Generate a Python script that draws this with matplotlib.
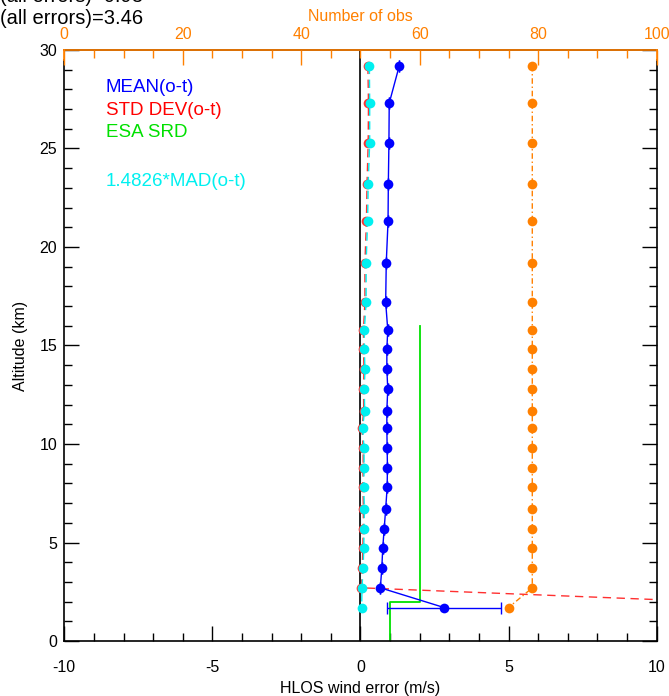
import matplotlib
matplotlib.use("Agg")
import matplotlib.pyplot as plt
from matplotlib.ticker import MultipleLocator

plt.rcParams['font.family'] = ['Liberation Sans', 'DejaVu Sans']
plt.rcParams['axes.unicode_minus'] = False

# Altitude levels (km)
altitude = [29.2, 27.3, 25.3, 23.2, 21.3, 19.2, 17.2, 15.8, 14.8, 13.8, 12.8,
            11.7, 10.8, 9.8, 8.8, 7.8, 6.7, 5.7, 4.7, 3.7, 2.7, 1.7]

# HLOS wind error statistics (m/s)
mean_ot = [1.31, 0.97, 0.96, 0.94, 0.93, 0.87, 0.85, 0.92, 0.89, 0.89, 0.92,
           0.89, 0.89, 0.90, 0.91, 0.90, 0.85, 0.80, 0.75, 0.72, 0.67, 2.82]
std_ot = [0.25, 0.27, 0.26, 0.22, 0.20, 0.15, 0.15, 0.10, 0.10, 0.12, 0.10,
          0.11, 0.05, 0.09, 0.09, 0.08, 0.10, 0.09, 0.08, 0.06, 0.03, 16.7]
mad_ot = [0.30, 0.31, 0.31, 0.26, 0.24, 0.19, 0.19, 0.13, 0.13, 0.15, 0.13,
          0.14, 0.07, 0.12, 0.12, 0.11, 0.13, 0.12, 0.11, 0.09, 0.05, 0.04]
mean_err = [0, 0, 0, 0, 0, 0, 0, 0, 0, 0, 0,
            0, 0, 0, 0, 0, 0, 0, 0, 0, 0, 1.91]

# Number of observations per level
n_obs = [79, 79, 79, 79, 79, 79, 79, 79, 79, 79, 79,
         79, 79, 79, 79, 79, 79, 79, 79, 79, 79, 75]

# ESA system requirement (m/s) vs altitude (km)
srd_err = [1, 1, 2, 2]
srd_alt = [0, 2, 2, 16]

ORANGE = '#FF8000'
fig = plt.figure(figsize=(6.69, 6.96), dpi=100)
ax = fig.add_axes([0.0961, 0.0790, 0.8855, 0.8492])

ax.set_xlim(-10, 10)
ax.set_ylim(0, 30)

ax.plot([0, 0], [0, 30], color='black', lw=1.2, zorder=1)
ax.plot(srd_err, srd_alt, color='#00E000', lw=1.3, zorder=2)
ax.plot(std_ot, altitude, color='#FF3030', ls=(0, (6, 4)), lw=1.0,
        marker='o', ms=7, mec='none', zorder=3)
ax.plot(mad_ot, altitude, color='#00F0F0', ls=(0, (6, 4)), lw=1.0,
        marker='o', ms=7, mec='none', zorder=4)
ax.errorbar(mean_ot, altitude, xerr=mean_err, color='#0000FF', lw=1.0,
            marker='o', ms=7, mec='none', capsize=4, elinewidth=1.0, zorder=5)

ax.xaxis.set_major_locator(MultipleLocator(5))
ax.xaxis.set_minor_locator(MultipleLocator(1))
ax.yaxis.set_major_locator(MultipleLocator(5))
ax.yaxis.set_minor_locator(MultipleLocator(1))
ax.tick_params(which='both', direction='in', right=True, top=False,
               labelsize=11.5, color='black')
ax.tick_params(which='major', length=11, width=1.0)
ax.tick_params(which='minor', length=5.5, width=1.0)
ax.tick_params(axis='x', pad=14)
ax.tick_params(axis='y', pad=5)
ax.set_xlabel('HLOS wind error (m/s)', fontsize=11.5)
ax.set_ylabel('Altitude (km)', fontsize=11.5)
ax.xaxis.set_label_coords(0.5, -0.068)
ax.yaxis.set_label_coords(-0.062, 0.5)
for s in ax.spines.values():
    s.set_linewidth(1.2)
# black frame sides stop just below the top axis
ax.spines['left'].set_bounds(0, 29.5)
ax.spines['right'].set_bounds(0, 29.5)

# Number of observations on the top axis
ax2 = ax.twiny()
ax2.set_xlim(0, 100)
ax2.plot(n_obs, altitude, color=ORANGE, ls=(0, (4, 2, 1, 2)), lw=1.0,
         marker='o', ms=7, mec='none', zorder=3)
ax2.xaxis.set_major_locator(MultipleLocator(20))
ax2.xaxis.set_minor_locator(MultipleLocator(5))
ax2.tick_params(which='both', direction='in', color=ORANGE,
                labelcolor=ORANGE, labelsize=11.5, pad=6)
ax2.tick_params(which='major', length=11, width=1.0)
ax2.tick_params(which='minor', length=5.5, width=1.0)
ax2.spines['top'].set_color(ORANGE)
ax2.spines['top'].set_linewidth(1.2)
for side in ('left', 'right'):
    ax2.spines[side].set_color(ORANGE)
    ax2.spines[side].set_linewidth(1.2)
    ax2.spines[side].set_bounds(29.5 / 30, 1.0)
ax2.spines['left'].set_bounds(29.5, 30)
ax2.spines['right'].set_bounds(29.5, 30)
ax2.spines['bottom'].set_visible(False)
ax2.set_xlabel('Number of obs', color=ORANGE, fontsize=11.5)
ax2.xaxis.set_label_coords(0.5, 1.049)

# Legend-style captions
ax.text(0.07, 0.937, 'MEAN(o-t)', color='#0000FF', fontsize=13.5,
        transform=ax.transAxes, va='center')
ax.text(0.07, 0.898, 'STD DEV(o-t)', color='#FF0000', fontsize=13.5,
        transform=ax.transAxes, va='center')
ax.text(0.07, 0.860, 'ESA SRD', color='#00E000', fontsize=13.5,
        transform=ax.transAxes, va='center')
ax.text(0.07, 0.778, '1.4826*MAD(o-t)', color='#00F0F0', fontsize=13.5,
        transform=ax.transAxes, va='center')

fig.text(0.0, 1.0 + 3 / 696, '(all errors)=0.93', fontsize=14.5,
         va='center', ha='left')
fig.text(0.0, 1.0 - 18 / 696, '(all errors)=3.46', fontsize=14.5,
         va='center', ha='left')

fig.savefig('out.png', dpi=100)
